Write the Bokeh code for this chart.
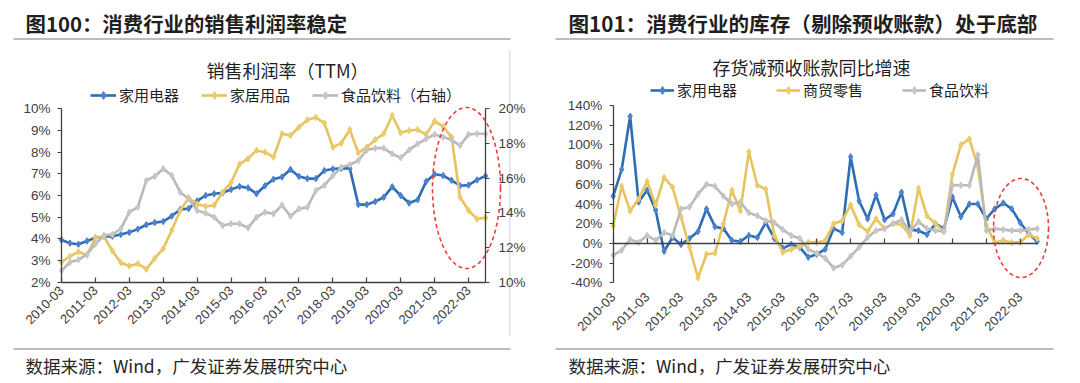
import math
import numpy as np
from bokeh.plotting import figure
from bokeh.layouts import row
from bokeh.models import (Range1d, LinearAxis, FixedTicker, PrintfTickFormatter,
                          Label, Legend, LegendItem, BoxAnnotation, PolyAnnotation)
from bokeh.core.properties import value
from bokeh.embed import file_html
from bokeh.resources import INLINE

# ---------------- data ----------------
quarters = [f"{2010 + k // 4}-{(k % 4 + 1) * 3:02d}" for k in range(51)]  # 2010-03 ... 2022-09

# Figure 100: net profit margin (TTM), %
appliance_margin = [3.95, 3.8, 3.75, 3.9, 4.05, 4.1, 4.12, 4.2, 4.3, 4.45,
                    4.65, 4.75, 4.8, 5.05, 5.35, 5.4, 5.75, 6.0, 6.08, 6.12,
                    6.28, 6.42, 6.35, 6.08, 6.45, 6.75, 6.85, 7.2, 6.88, 6.78,
                    6.78, 7.15, 7.22, 7.25, 7.25, 5.58, 5.58, 5.72, 5.92, 6.4,
                    6.0, 5.65, 5.8, 6.65, 6.98, 6.92, 6.7, 6.45, 6.48, 6.72,
                    6.9]
home_margin = [2.92, 3.2, 3.4, 3.25, 4.05, 4.1, 3.45, 2.9, 2.75, 2.85,
               2.6, 3.1, 3.55, 4.4, 5.3, 5.9, 5.6, 5.5, 5.55, 6.15,
               6.6, 7.45, 7.7, 8.08, 8.0, 7.77, 8.85, 8.77, 9.15, 9.49,
               9.6, 9.34, 8.23, 8.42, 9.03, 7.97, 8.23, 8.57, 8.85, 9.69,
               8.89, 9.0, 9.03, 8.82, 9.43, 9.18, 8.7, 5.92, 5.31, 4.92,
               4.97]
food_margin = [10.67, 11.15, 11.3, 11.6, 12.2, 12.7, 12.75, 13.08, 14.04, 14.33,
               15.87, 16.1, 16.54, 16.15, 15.19, 14.8, 14.13, 13.98, 13.75, 13.27,
               13.37, 13.37, 13.13, 13.75, 14.04, 13.94, 14.45, 13.8, 14.23, 14.33,
               15.29, 15.58, 16.15, 16.63, 16.77, 17.02, 17.63, 17.73, 17.73, 17.4,
               17.17, 17.63, 17.98, 18.27, 18.52, 18.37, 18.21, 17.88, 18.52, 18.56,
               18.56]

# Figure 101: inventory minus advance receipts, YoY growth, %
appliance_inv = [48, 75, 129, 42, 54, 34, -8, 6, -1, 5,
                 12, 35, 17, 15, 3, 2, 8, 6, 21, 5,
                 -5, -1, -4, -14, -11, -6, 15, 11, 88, 43,
                 25, 49, 24, 30, 52, 14, 13, 9, 20, 15,
                 47, 27, 40, 40, 25, 35, 41, 35, 21, 10,
                 2]
retail_inv = [18, 58, 33, 45, 63, 39, 67, 57, 27, -4,
              -35, -11, -10, 20, 54, 33, 93, 59, 55, 8,
              -9, -6, -3, 1, 1, 3, 20, 23, 39, 19,
              12, 25, 15, 20, 19, 8, 56, 28, 20, 12,
              70, 100, 106, 78, 18, 1, 3, 1, 1, 9,
              5]
food_inv = [-12, -7, 4, 1, 8, 3, 11, 8, 35, 37,
            50, 60, 58, 48, 40, 42, 31, 28, 23, 21,
            14, 8, 5, -6, -10, -15, -25, -22, -13, -4,
            6, 13, 15, 20, 24, 12, 22, 15, 13, 12,
            59, 59, 59, 90, 13, 15, 14, 13, 13, 14,
            15]

left_ticks = [2, 3, 4, 5, 6, 7, 8, 9, 10]
right_ticks = [10, 12, 14, 16, 18, 20]
inv_ticks = [-40, -20, 0, 20, 40, 60, 80, 100, 120, 140]

# ---------------- style ----------------
CJK = "Noto Sans CJK SC"
LAT = "Liberation Sans"
AX = "#404040"
TXT = "#1f1f1f"
BLUE, BLUE_M = "#2C6DB3", "#4C80D0"
YEL, YEL_M = "#E6C35E", "#EBCB6C"
GRY, GRY_M = "#B9B9B9", "#C6C6C6"
RED = "#F03A3A"

H = 380
OY = 0
N = len(quarters)
x = list(range(N))
xtick_pos = [i for i, q in enumerate(quarters) if q.endswith("-03")]
xtick_lab = {i: quarters[i] for i in xtick_pos}


def style_axis(ax, size="13.5px"):
    ax.axis_line_color = AX
    ax.axis_line_width = 1.3
    ax.major_tick_line_color = AX
    ax.major_tick_line_width = 1.2
    ax.minor_tick_line_color = None
    ax.major_label_text_font = LAT
    ax.major_label_text_font_size = size
    ax.major_label_text_color = AX


def vrng(fy_top, fy_bot, vmin, vmax):
    m = (vmax - vmin) / (fy_bot - fy_top)
    return Range1d(vmin + (fy_bot - (OY + H)) * m, vmin + (fy_bot - OY) * m)


class Panel:
    def __init__(self, ox, w, fx0, fx1, fy_top, fy_bot, vmin, vmax):
        self.ox, self.w = ox, w
        k = (N - 1) / (fx1 - fx0)
        self.p = figure(width=w, height=H, output_backend="svg", toolbar_location=None, tools="",
                        x_range=Range1d((ox - fx0) * k, (ox + w - fx0) * k),
                        y_range=vrng(fy_top, fy_bot, vmin, vmax),
                        x_axis_location=None, y_axis_location=None, min_border=0)
        p = self.p
        p.title.visible = False
        p.xgrid.visible = False
        p.ygrid.visible = False
        p.outline_line_color = None
        p.background_fill_color = "white"
        p.border_fill_color = "white"

    def sx(self, X):
        return X - self.ox

    def sy(self, Y):
        return (OY + H) - Y

    def text(self, X, Y, s, size, bold=False, align="left", font=CJK, color=TXT):
        self.p.add_layout(Label(x=self.sx(X), y=self.sy(Y), x_units="screen", y_units="screen",
                                text=s, text_font=font, text_font_size=size,
                                text_font_style="bold" if bold else "normal",
                                text_align=align, text_baseline="middle", text_color=color))

    def box(self, X1, X2, Y1, Y2, color):
        self.p.add_layout(BoxAnnotation(left=self.sx(X1), right=self.sx(X2),
                                        bottom=self.sy(Y2), top=self.sy(Y1),
                                        left_units="screen", right_units="screen",
                                        bottom_units="screen", top_units="screen",
                                        fill_color=color, fill_alpha=1, line_color=None,
                                        level="underlay"))

    def hline(self, X1, X2, Y, color="#A6A6A6", w=1.6):
        self.box(X1, X2, Y - w / 2, Y + w / 2, color)

    def vline(self, X, Y1, Y2, color="#D9D9D9", w=1.2):
        self.box(X - w / 2, X + w / 2, Y1, Y2, color)

    def ellipse(self, cx, cy, a, b):
        t = np.linspace(0, 2 * math.pi, 160)
        xs = [self.sx(cx + a * math.cos(v)) for v in t]
        ys = [self.sy(cy + b * math.sin(v)) for v in t]
        self.p.add_layout(PolyAnnotation(xs=xs, ys=ys, xs_units="screen", ys_units="screen",
                                         fill_alpha=0, line_color=RED, line_alpha=1,
                                         line_width=1.6, line_dash="4 3"))

    def legend(self, items, X, Y, glyph_w, spacing):
        leg = Legend(items=items, orientation="horizontal",
                     location=(self.sx(X), self.sy(Y) - 10),
                     glyph_width=glyph_w, glyph_height=20, label_height=20,
                     label_standoff=3, spacing=spacing, padding=0, margin=0,
                     label_text_font=CJK, label_text_font_size="15px", label_text_color=TXT,
                     background_fill_alpha=0, border_line_color=None)
        self.p.add_layout(leg)


def series(p, ys, color, mcolor, rng="default"):
    r1 = p.line(x, ys, line_color=color, line_width=2.6, y_range_name=rng)
    r2 = p.scatter(x, ys, marker="diamond", size=6.5, fill_color=mcolor, line_color=mcolor,
                   y_range_name=rng)
    return [r1, r2]


def label_axis(ax):
    style_axis(ax, "13px")
    ax.ticker = FixedTicker(ticks=xtick_pos)
    ax.major_label_overrides = xtick_lab
    ax.major_label_orientation = math.pi / 4
    ax.major_label_standoff = 6


def y_axis(ticks, loc, bounds, standoff, rng="default"):
    ax = LinearAxis(y_range_name=rng, ticker=FixedTicker(ticks=ticks),
                    formatter=PrintfTickFormatter(format="%d%%"),
                    fixed_location=loc, bounds=bounds)
    style_axis(ax)
    ax.major_tick_in = 0
    ax.major_tick_out = 4
    ax.major_label_standoff = standoff
    return ax


# ================= left: Figure 100 =================
L = Panel(0, 540, 61, 485, 108.3, 281.7, 2, 10)
pL = L.p
pL.extra_y_ranges = {"right": vrng(108.3, 281.7, 10, 20)}

pL.add_layout(y_axis(left_ticks, 0, (2, 10), 7), "left")
pL.add_layout(y_axis(right_ticks, N - 1, (10, 20), 9, "right"), "right")
xax = LinearAxis(fixed_location=2, bounds=(0, N - 1))
label_axis(xax)
xax.major_tick_in = 5
xax.major_tick_out = 0
pL.add_layout(xax, "below")

rb = series(pL, appliance_margin, BLUE, BLUE_M)
ry = series(pL, home_margin, YEL, YEL_M)
rg = series(pL, food_margin, GRY, GRY_M, "right")

L.legend([LegendItem(label=value("家用电器"), renderers=rb),
          LegendItem(label=value("家居用品"), renderers=ry),
          LegendItem(label=value("食品饮料（右轴）"), renderers=rg)],
         90, 95, 26, 22)
L.text(25, 22, "图100：消费行业的销售利润率稳定", "20.4px", bold=True)
L.hline(13, 510, 38.5)
L.vline(509.3, 50, 335)
L.text(287, 69, "销售利润率（TTM）", "18px", align="center")
L.hline(13, 510, 348.5)
L.text(25, 365, "数据来源：Wind，广发证券发展研究中心", "17.5px", color="#262626")
L.ellipse(466, 187.5, 34, 80.5)

# ================= right: Figure 101 =================
R = Panel(540, 520, 612.7, 1036.7, 105, 282.3, -40, 140)
pR = R.p

pR.add_layout(y_axis(inv_ticks, 0, (-40, 140), 7), "left")

xlab = LinearAxis(fixed_location=-40, bounds=(0, N - 1))
label_axis(xlab)
xlab.axis_line_color = None
xlab.major_tick_line_color = None
pR.add_layout(xlab, "below")

zero_ax = LinearAxis(ticker=FixedTicker(ticks=xtick_pos), fixed_location=0, bounds=(0, N - 1))
style_axis(zero_ax)
zero_ax.major_label_text_color = None
zero_ax.major_tick_in = 5
zero_ax.major_tick_out = 0
pR.add_layout(zero_ax, "below")

sb = series(pR, appliance_inv, BLUE, BLUE_M)
sy_ = series(pR, retail_inv, YEL, YEL_M)
sg = series(pR, food_inv, GRY, GRY_M)

R.legend([LegendItem(label=value("家用电器"), renderers=sb),
          LegendItem(label=value("商贸零售"), renderers=sy_),
          LegendItem(label=value("食品饮料"), renderers=sg)],
         650, 90, 24, 39)
R.text(568, 22, "图101：消费行业的库存（剔除预收账款）处于底部", "20.6px", bold=True)
R.hline(555, 1053, 38.5)
R.text(811, 66, "存货减预收账款同比增速", "18px", align="center")
R.hline(555, 1053, 348.5)
R.text(568, 365, "数据来源：Wind，广发证券发展研究中心", "17.5px", color="#262626")
R.ellipse(1020.5, 227.5, 27.5, 49.5)

layout = row(pL, pR)
open("out.html", "w").write(file_html(layout, INLINE))
